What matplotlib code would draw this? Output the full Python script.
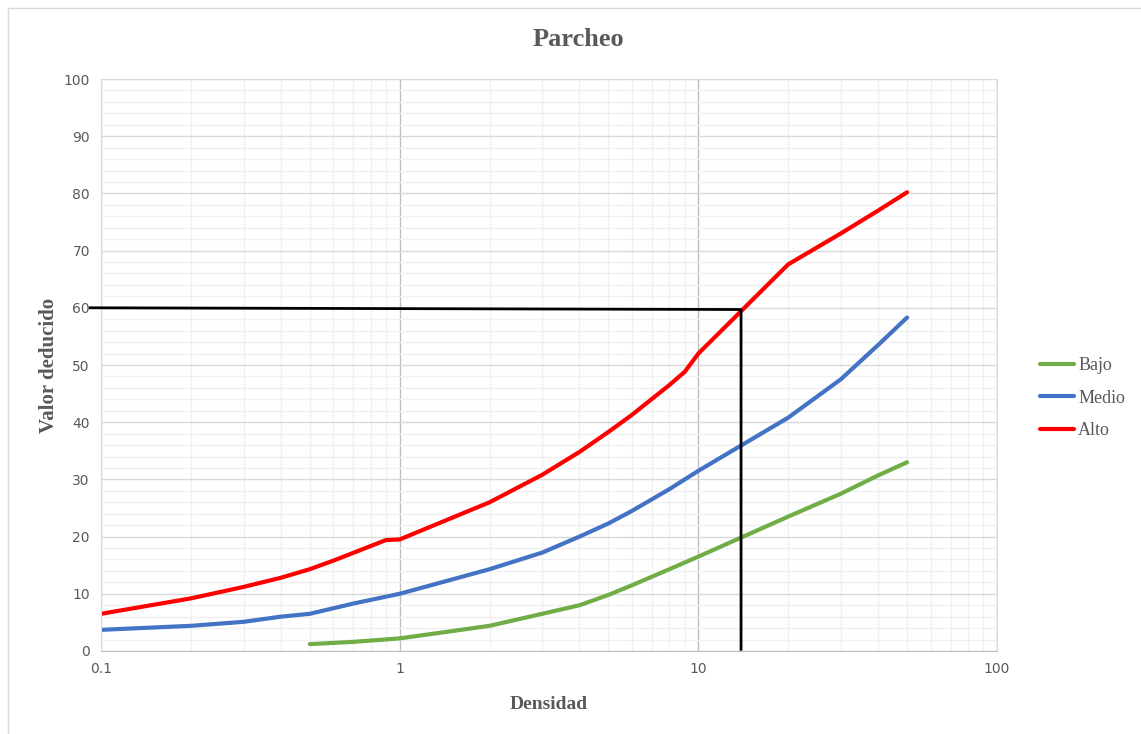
import matplotlib
matplotlib.use("Agg")
import matplotlib.pyplot as plt
from matplotlib.ticker import FixedLocator, NullFormatter
from matplotlib.patches import Rectangle

# densities (log axis) and deduct values
bajo_x = [0.5, 0.7, 1, 2, 3, 4, 5, 6, 8, 10, 20, 30, 40, 50]
bajo_y = [1.2, 1.6, 2.2, 4.4, 6.5, 8.0, 9.8, 11.5, 14.3, 16.5, 23.5, 27.5, 30.7, 33.0]

medio_x = [0.1, 0.2, 0.3, 0.4, 0.5, 0.7, 1, 2, 3, 4, 5, 6, 8, 10, 20, 30, 40, 50]
medio_y = [3.7, 4.4, 5.1, 6.0, 6.5, 8.3, 10.0, 14.3, 17.2, 20.0, 22.3, 24.5, 28.3, 31.5, 40.8, 47.5, 53.5, 58.3]

alto_x = [0.1, 0.2, 0.3, 0.4, 0.5, 0.6, 0.9, 1, 2, 3, 4, 5, 6, 8, 9, 10, 20, 30, 40, 50]
alto_y = [6.5, 9.2, 11.2, 12.8, 14.3, 15.8, 19.4, 19.5, 26.0, 30.8, 34.8, 38.3, 41.3, 46.5, 48.8, 52.0, 67.6, 73.0, 77.0, 80.2]

# reading line for the example (density ~13.9 -> deduct value 60)
ref_x = [0.092, 13.9, 13.9]
ref_y = [60, 59.7, 0.3]

gray = "#595959"

fig = plt.figure(figsize=(11.41, 7.34), dpi=100)
fig.patches.append(Rectangle((8 / 1141, -0.01), 1.02, 1 - 8 / 734 + 0.01,
                             transform=fig.transFigure, fill=False,
                             edgecolor="#d9d9d9", linewidth=1))
ax = fig.add_axes([101 / 1141, 1 - 651 / 734, (997 - 101) / 1141, (651 - 79) / 734])

ax.set_xscale("log")
ax.set_xlim(0.1, 100)
ax.set_ylim(0, 100)

ax.plot(bajo_x, bajo_y, color="#70ad47", lw=3, label="Bajo", solid_capstyle="round")
ax.plot(medio_x, medio_y, color="#4472c4", lw=3, label="Medio", solid_capstyle="round")
ax.plot(alto_x, alto_y, color="#ff0000", lw=3, label="Alto", solid_capstyle="round")
ax.plot(ref_x, ref_y, color="black", lw=2, clip_on=False, zorder=5)

# grid like excel
ax.set_yticks(range(0, 101, 10))
ax.yaxis.set_minor_locator(FixedLocator(range(0, 101, 2)))
ax.set_xticks([0.1, 1, 10, 100])
ax.set_xticklabels(["0.1", "1", "10", "100"])
ax.xaxis.set_minor_formatter(NullFormatter())
ax.grid(True, which="minor", color="#f0f0f0", lw=1)
ax.grid(True, which="major", axis="y", color="#d9d9d9", lw=1)
ax.grid(True, which="major", axis="x", color="#bfbfbf", lw=1)
ax.set_axisbelow(True)
ax.tick_params(which="both", length=0, colors=gray, labelsize=10, pad=8)
for s in ax.spines.values():
    s.set_color("#d9d9d9")
ax.spines["bottom"].set_color("#bfbfbf")

fig.text(578 / 1141, 1 - 40 / 734, "Parcheo", fontfamily="Liberation Serif",
         fontweight="bold", fontsize=19, color=gray, ha="center", va="center")
ax.set_xlabel("Densidad", fontfamily="Liberation Serif", fontweight="bold",
              fontsize=14, color=gray, labelpad=14)
ax.set_ylabel("Valor deducido", fontfamily="Liberation Serif", fontweight="bold",
              fontsize=15, color=gray, labelpad=3)

leg = ax.legend(loc="center left", bbox_to_anchor=(1.03, 0.442), frameon=False,
                prop={"family": "Liberation Serif", "size": 13},
                handlelength=1.9, handletextpad=0.2, labelspacing=0.85)
for t in leg.get_texts():
    t.set_color(gray)

fig.savefig("out.png", dpi=100)
